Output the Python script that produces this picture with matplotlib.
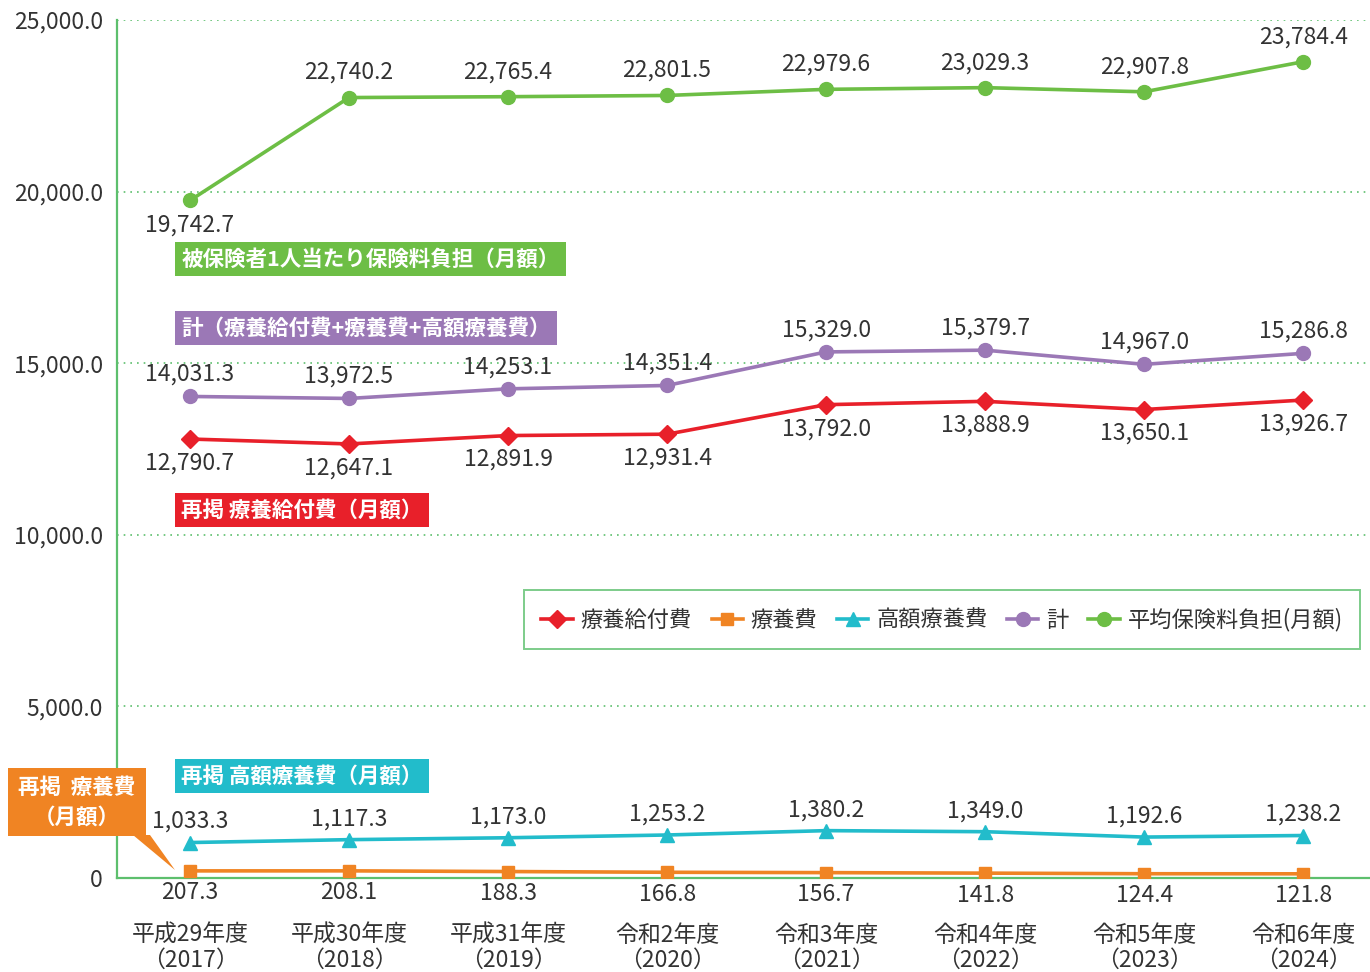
import numpy as np
import matplotlib.pyplot as plt
from matplotlib.lines import Line2D
from matplotlib.patches import Rectangle, Polygon

plt.rcParams['font.family'] = ['Noto Sans CJK JP', 'DejaVu Sans']

years = ['平成29年度\n（2017）', '平成30年度\n（2018）', '平成31年度\n（2019）',
         '令和2年度\n（2020）', '令和3年度\n（2021）', '令和4年度\n（2022）',
         '令和5年度\n（2023）', '令和6年度\n（2024）']
ryoyo_kyufu = [12790.7, 12647.1, 12891.9, 12931.4, 13792.0, 13888.9, 13650.1, 13926.7]
ryoyo = [207.3, 208.1, 188.3, 166.8, 156.7, 141.8, 124.4, 121.8]
kogaku = [1033.3, 1117.3, 1173.0, 1253.2, 1380.2, 1349.0, 1192.6, 1238.2]
total = [14031.3, 13972.5, 14253.1, 14351.4, 15329.0, 15379.7, 14967.0, 15286.8]
hokenryo = [19742.7, 22740.2, 22765.4, 22801.5, 22979.6, 23029.3, 22907.8, 23784.4]

c_red = '#e8202a'
c_orange = '#f08423'
c_cyan = '#22bccb'
c_purple = '#9b78b6'
c_green = '#6dbe45'
c_axis = '#5dbf6d'
c_text = '#333333'
fs = 16.5

fig = plt.figure(figsize=(13.7, 9.72), dpi=100)
ax = fig.add_axes([117 / 1370, 94 / 972, 1253 / 1370, 858 / 972])

x = np.arange(len(years))

series = [
    (ryoyo_kyufu, c_red, 'D', 9, '療養給付費'),
    (ryoyo, c_orange, 's', 9, '療養費'),
    (kogaku, c_cyan, '^', 10, '高額療養費'),
    (total, c_purple, 'o', 10, '計'),
    (hokenryo, c_green, 'o', 10, '平均保険料負担(月額)'),
]
for vals, col, mk, ms, name in series:
    ax.plot(x, vals, color=col, lw=2.6, marker=mk, ms=ms, zorder=3)

# value labels
def put_labels(vals, offsets):
    for i, v in enumerate(vals):
        ax.annotate(f'{v:,.1f}', (i, v), xytext=(0, offsets[i]),
                    textcoords='offset pixels', ha='center', va='center',
                    fontsize=fs, color=c_text, zorder=4)

put_labels(hokenryo, [-25] + [25] * 7)
put_labels(total, [22] * 8)
put_labels(ryoyo_kyufu, [-24] * 8)
put_labels(kogaku, [21] * 8)
put_labels(ryoyo, [-22] * 8)

ax.set_xlim(-0.459, 7.42)
ax.set_ylim(0, 25000)
ax.set_yticks(np.arange(0, 25001, 5000))
ax.set_yticklabels(['0'] + [f'{t:,.1f}' for t in range(5000, 25001, 5000)])
ax.set_xticks(x)
ax.set_xticklabels(years, linespacing=1.12)
ax.tick_params(axis='both', length=0, labelsize=fs, labelcolor=c_text)
ax.tick_params(axis='y', pad=10)
ax.tick_params(axis='x', pad=33)

ax.grid(axis='y', color=c_axis, ls=(0, (1, 3)), lw=1.2)
ax.set_axisbelow(True)
for s in ['top', 'right']:
    ax.spines[s].set_visible(False)
for s in ['left', 'bottom']:
    ax.spines[s].set_color(c_axis)
    ax.spines[s].set_linewidth(1.6)

# series name boxes
boxes = [
    (18036, '被保険者1人当たり保険料負担（月額）', c_green),
    (16025, '計（療養給付費+療養費+高額療養費）', c_purple),
    (10723, '再掲 療養給付費（月額）', c_red),
    (2972, '再掲 高額療養費（月額）', c_cyan),
]
for yv, txt, col in boxes:
    ax.text(-0.055, yv, txt, ha='left', va='center', fontsize=15.5,
            fontweight='bold', color='white',
            bbox=dict(boxstyle='square,pad=0.3', fc=col, ec='none'))

# orange callout
W, H = 1370, 972
fig.patches.append(Rectangle((8 / W, 1 - 836 / H), 138 / W, 68 / H,
                             transform=fig.transFigure, fc=c_orange, ec='none'))
fig.patches.append(Polygon([(133 / W, 1 - 835 / H), (150 / W, 1 - 835 / H),
                            (175 / W, 1 - 870 / H)],
                           transform=fig.transFigure, fc=c_orange, ec='none'))
fig.text(77 / W, 1 - 787 / H, '再掲  療養費', ha='center', va='center',
         fontsize=15.5, fontweight='bold', color='white')
fig.text(77 / W, 1 - 817 / H, '（月額）', ha='center', va='center',
         fontsize=15.5, fontweight='bold', color='white')

# legend
handles = [Line2D([], [], color=col, lw=2.6, marker=mk, ms=ms, label=name)
           for vals, col, mk, ms, name in series]
leg = ax.legend(handles=handles, loc='center', bbox_to_anchor=(0.6584, 0.301),
                ncol=5, fontsize=16, frameon=True, fancybox=False,
                handlelength=1.4, handletextpad=0.35, columnspacing=0.9,
                borderpad=0.8)
leg.get_frame().set_edgecolor(c_axis)
leg.get_frame().set_linewidth(1.4)
for t in leg.get_texts():
    t.set_color(c_text)

fig.savefig('out.png', dpi=100)
